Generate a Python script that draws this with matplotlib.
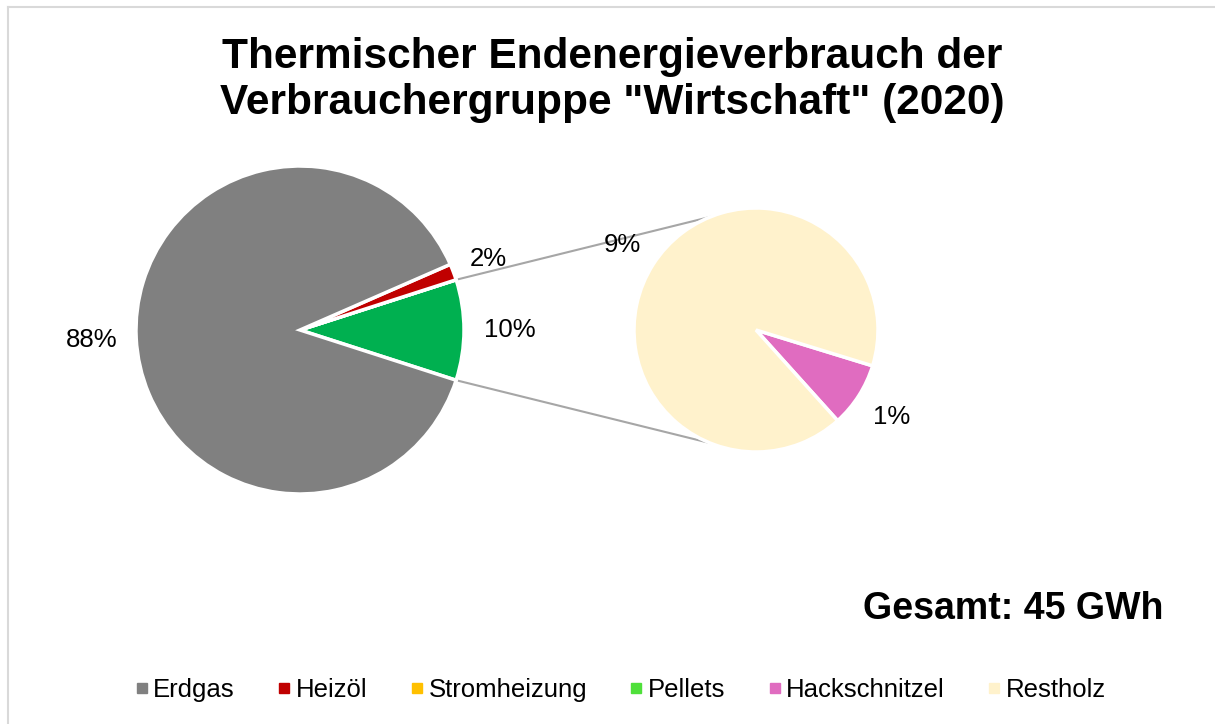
import matplotlib
matplotlib.use("Agg")
import matplotlib.pyplot as plt
from matplotlib.lines import Line2D
import numpy as np

plt.rcParams['font.family'] = ['Liberation Sans', 'DejaVu Sans']

categories = ["Erdgas", "Heizöl", "Stromheizung", "Pellets", "Hackschnitzel", "Restholz"]
values = [88.4, 1.6, 0.0, 0.0, 0.85, 9.05]
colors = ["#808080", "#C00000", "#FFC000", "#4FE03A", "#E06CC0", "#FFF2CC"]
other_color = "#00B050"
title = 'Thermischer Endenergieverbrauch der\nVerbrauchergruppe "Wirtschaft" (2020)'
total_text = "Gesamt: 45 GWh"

W, H = 1215, 724
fig = plt.figure(figsize=(W / 100, H / 100), dpi=100)
ax = fig.add_axes([0, 0, 1, 1])

# main pie: Erdgas, Heizöl, Stromheizung, Pellets + "other" (secondary)
sec_idx = [4, 5]
other = sum(values[i] for i in sec_idx)
main_vals = [other, values[3], values[2], values[1], values[0]]
main_cols = [other_color, colors[3], colors[2], colors[1], colors[0]]
c1 = (300, H - 330)
r1 = 164
start1 = -other / sum(values) * 360 / 2
w1, _ = ax.pie(main_vals, colors=main_cols, center=c1, radius=r1,
               startangle=start1, counterclock=True,
               wedgeprops=dict(edgecolor="white", linewidth=2.5), frame=True)

# secondary pie
sec_vals = [values[4], values[5]]
sec_cols = [colors[4], colors[5]]
c2 = (756, H - 330)
r2 = 122
w2, _ = ax.pie(sec_vals, colors=sec_cols, center=c2, radius=r2,
               startangle=-48, counterclock=True,
               wedgeprops=dict(edgecolor="white", linewidth=2.5), frame=True)
ax.set_xlim(0, W)
ax.set_ylim(0, H)
ax.set_aspect('equal')
ax.axis('off')

# border (top + left visible)
ax.plot([8, W], [H - 7, H - 7], color="#D9D9D9", lw=1.5)
ax.plot([8, 8], [H - 7, 0], color="#D9D9D9", lw=1.5)

def lab(w, c, r, frac, text):
    a = np.deg2rad((w.theta1 + w.theta2) / 2)
    ax.text(c[0] + frac * r * np.cos(a), c[1] + frac * r * np.sin(a), text,
            ha='center', va='center', fontsize=18.5, color='black')

tot = sum(values)
lab(w1[0], c1, r1, 1.28, f"{round(other / tot * 100)}%")
lab(w1[3], c1, r1, 1.23, f"{round(values[1] / tot * 100)}%")
lab(w1[4], c1, r1, 1.27, f"{round(values[0] / tot * 100)}%")
lab(w2[0], c2, r2, 1.32, f"{round(values[4] / tot * 100)}%")
lab(w2[1], c2, r2, 1.30, f"{round(values[5] / tot * 100)}%")

# connector lines
t_top = np.deg2rad(w1[0].theta2)
t_bot = np.deg2rad(w1[0].theta1)
p_top = (c1[0] + r1 * np.cos(t_top), c1[1] + r1 * np.sin(t_top))
p_bot = (c1[0] + r1 * np.cos(t_bot), c1[1] + r1 * np.sin(t_bot))
q_top = (c2[0] + r2 * np.cos(np.deg2rad(112)), c2[1] + r2 * np.sin(np.deg2rad(112)))
q_bot = (c2[0] + r2 * np.cos(np.deg2rad(-112)), c2[1] + r2 * np.sin(np.deg2rad(-112)))
ax.plot([p_top[0], q_top[0]], [p_top[1], q_top[1]], color="#A6A6A6", lw=1.5, zorder=0)
ax.plot([p_bot[0], q_bot[0]], [p_bot[1], q_bot[1]], color="#A6A6A6", lw=1.5, zorder=0)

ax.text(612, H - 80, title, ha='center', va='center', fontsize=30.5,
        fontweight='bold', linespacing=1.22)
ax.text(1013, H - 609, total_text, ha='center', va='center', fontsize=27,
        fontweight='bold')

handles = [Line2D([0], [0], marker='s', linestyle='none', markersize=7,
                  markerfacecolor=c, markeredgecolor=c) for c in colors]
fig.legend(handles, categories, loc='center', bbox_to_anchor=(620 / W, 1 - 690 / H),
           ncol=6, frameon=False, fontsize=18.5, handletextpad=0.15,
           columnspacing=1.62, handlelength=0.6)

fig.savefig("out.png", dpi=100, facecolor="white")
